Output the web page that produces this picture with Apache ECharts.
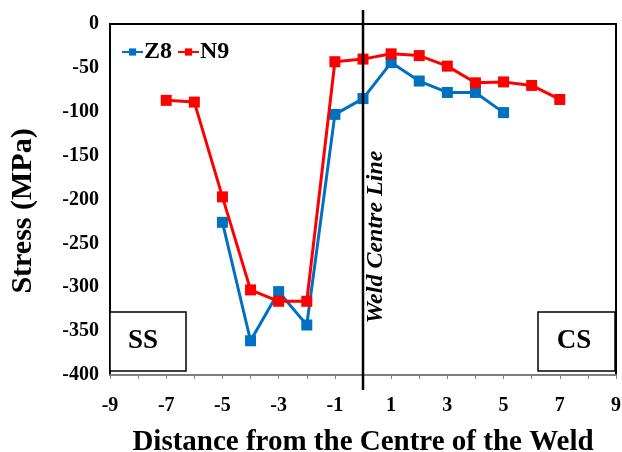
<!DOCTYPE html>
<html><head><meta charset="utf-8">
<script src="https://cdn.jsdelivr.net/npm/echarts@6/dist/echarts.min.js"></script>
<style>html,body{margin:0;padding:0;background:#fff}#c{width:622px;height:452px}</style>
</head><body><div id="c"></div>
<script>
const xZ8 = [-5, -4, -3, -2, -1, 0, 1, 2, 3, 4, 5];
const yZ8 = [-226, -361, -305, -343, -103, -85, -44, -65, -78, -78, -101];
const xN9 = [-7, -6, -5, -4, -3, -2, -1, 0, 1, 2, 3, 4, 5, 6, 7];
const yN9 = [-87, -89, -197, -303, -316, -316, -43, -40, -34, -36, -48, -67, -66, -70, -86];
const seriesNames = ['Z8', 'N9'];
const xTitle = 'Distance from the Centre of the Weld';
const yTitle = 'Stress (MPa)';
const centreLabel = 'Weld Centre Line';

const F = '"Liberation Serif", "Times New Roman", serif';
const chart = echarts.init(document.getElementById('c'));
const zip = (a, b) => a.map((v, i) => [v, b[i]]);
chart.setOption({
  animation: false,
  grid: { left: 110, top: 24, width: 506, height: 351, containLabel: false, outerBoundsMode: 'none',
    show: true, borderColor: '#000', borderWidth: 2, backgroundColor: '#fff' },
  legend: {
    left: 116, top: 35, itemWidth: 21, itemHeight: 9, itemGap: 5,
    textStyle: { fontFamily: F, fontWeight: 'bold', fontSize: 24, color: '#000', padding: [0, 0, 0, -4] },
    data: seriesNames
  },
  xAxis: {
    type: 'value', min: -9, max: 9, interval: 1,
    name: xTitle, nameLocation: 'middle', nameGap: 53,
    nameTextStyle: { fontFamily: F, fontWeight: 'bold', fontSize: 29, color: '#000' },
    axisLine: { onZero: false, lineStyle: { color: '#7f7f7f', width: 2 } },
    axisTick: { show: true, length: 4, lineStyle: { color: '#7f7f7f', width: 1 } },
    splitLine: { show: false },
    axisLabel: { margin: 21, fontFamily: F, fontWeight: 'bold', fontSize: 20, color: '#000',
      formatter: v => (Math.abs(v) % 2 === 1 ? String(v) : '') }
  },
  yAxis: {
    type: 'value', min: -400, max: 0, interval: 50,
    axisLine: { show: true, lineStyle: { color: '#7f7f7f', width: 2 } },
    axisTick: { show: false },
    splitLine: { show: false },
    axisLabel: { margin: 11, fontFamily: F, fontWeight: 'bold', fontSize: 20, color: '#000' }
  },
  series: [
    { name: seriesNames[0], type: 'line', data: zip(xZ8, yZ8), symbol: 'rect', symbolSize: 11,
      itemStyle: { color: '#0070C0' }, lineStyle: { width: 3, color: '#0070C0' }, z: 3 },
    { name: seriesNames[1], type: 'line', data: zip(xN9, yN9), symbol: 'rect', symbolSize: 11,
      itemStyle: { color: '#FF0000' }, lineStyle: { width: 3, color: '#FF0000' }, z: 4 }
  ]
});

const p0 = chart.convertToPixel({ xAxisIndex: 0, yAxisIndex: 0 }, [0, 0]);
chart.setOption({
  graphic: [
    { type: 'text', x: 23, y: 211, rotation: Math.PI / 2,
      style: { text: yTitle, fontFamily: F, fontWeight: 'bold', fontSize: 30, fill: '#000', align: 'center', verticalAlign: 'middle' } },
    { type: 'line', shape: { x1: p0[0], y1: 10, x2: p0[0], y2: 390 }, style: { stroke: '#000', lineWidth: 2.5 }, z: 10 },
    { type: 'text', x: p0[0] + 13, y: 237, rotation: Math.PI / 2,
      style: { text: centreLabel, fontFamily: F, fontWeight: 'bold', fontStyle: 'italic', fontSize: 24, fill: '#000', align: 'center', verticalAlign: 'middle' }, z: 10 },
    { type: 'rect', shape: { x: 110, y: 312, width: 76, height: 59 }, style: { fill: '#fff', stroke: '#000', lineWidth: 1.5 }, z: 10 },
    { type: 'text', x: 143, y: 341, style: { text: 'SS', fontFamily: F, fontWeight: 'bold', fontSize: 27, fill: '#000', align: 'center', verticalAlign: 'middle' }, z: 11 },
    { type: 'rect', shape: { x: 538, y: 312, width: 77, height: 59 }, style: { fill: '#fff', stroke: '#000', lineWidth: 1.5 }, z: 10 },
    { type: 'text', x: 574, y: 341, style: { text: 'CS', fontFamily: F, fontWeight: 'bold', fontSize: 27, fill: '#000', align: 'center', verticalAlign: 'middle' }, z: 11 }
  ]
});
</script></body></html>
